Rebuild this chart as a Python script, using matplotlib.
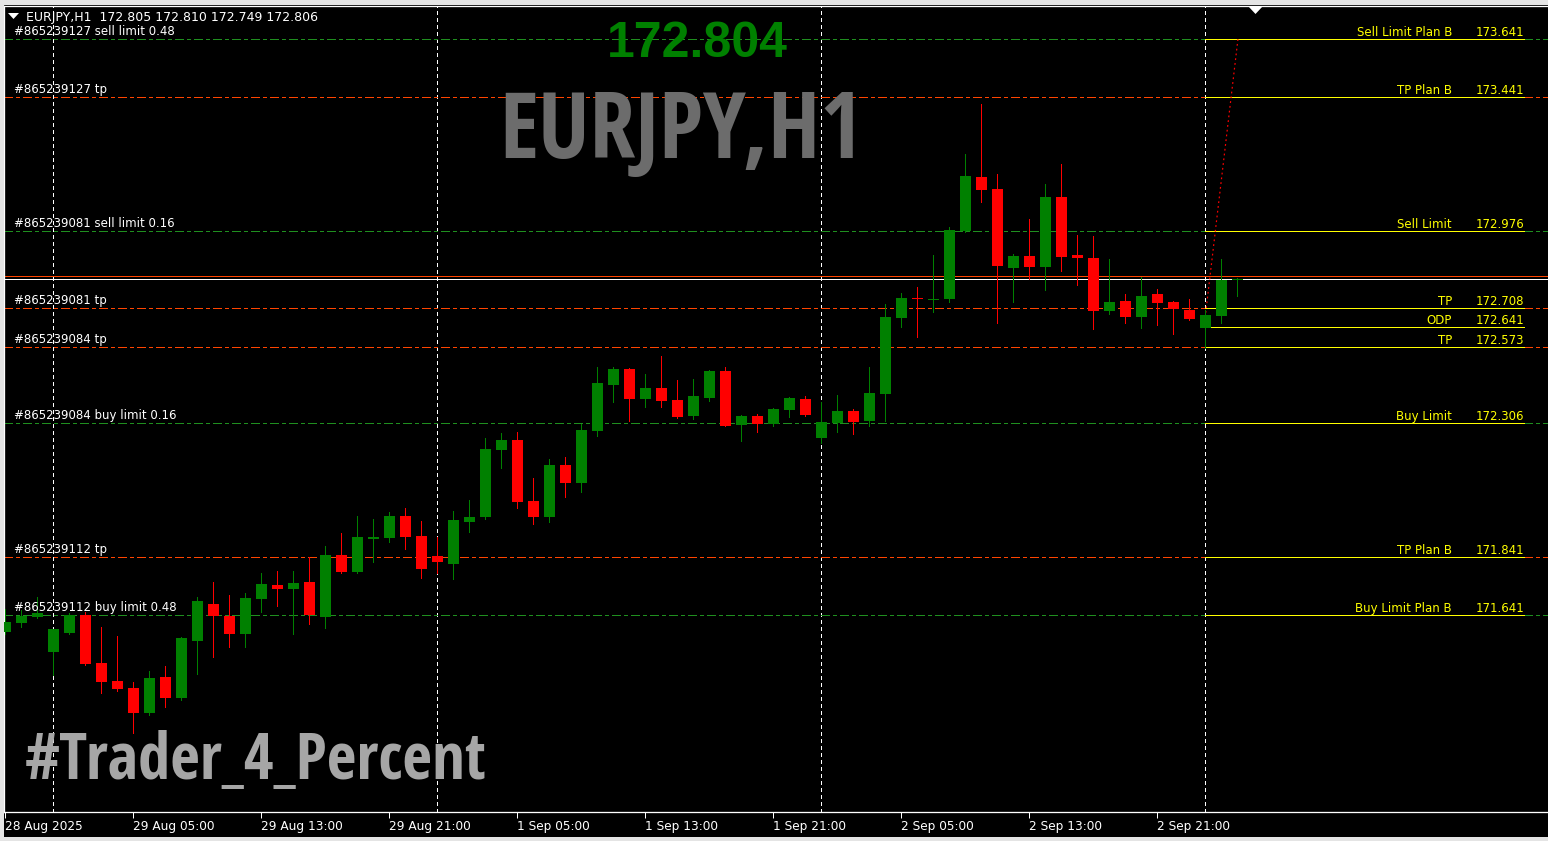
import numpy as np
import matplotlib
matplotlib.use('Agg')
import matplotlib.pyplot as plt
from matplotlib import font_manager as fm
from matplotlib.textpath import TextPath
from matplotlib.patches import Rectangle, Polygon

# ---------------- data ----------------
symbol = 'EURJPY,H1'
ohlc_title = '172.805 172.810 172.749 172.806'
big_price = '172.804'
watermark = '#Trader_4_Percent'

opens = [171.582, 171.613, 171.634, 171.513, 171.578, 171.641, 171.474, 171.412, 171.388, 171.301,
         171.426, 171.353, 171.551, 171.679, 171.638, 171.575, 171.697, 171.745, 171.731, 171.756,
         171.634, 171.849, 171.790, 171.905, 171.908, 171.985, 171.915, 171.846, 171.818, 171.964,
         171.981, 172.214, 172.249, 172.037, 171.981, 172.162, 172.099, 172.280, 172.440, 172.495,
         172.391, 172.429, 172.388, 172.332, 172.395, 172.488, 172.301, 172.332, 172.304, 172.353,
         172.391, 172.256, 172.307, 172.349, 172.314, 172.408, 172.672, 172.742, 172.735, 172.738,
         172.974, 173.162, 173.120, 172.846, 172.888, 172.849, 173.092, 172.891, 172.881, 172.697,
         172.731, 172.676, 172.756, 172.728, 172.700, 172.638, 172.679, 172.805]
highs = [171.662, 171.658, 171.704, 171.594, 171.648, 171.651, 171.599, 171.568, 171.408, 171.447,
         171.464, 171.564, 171.704, 171.756, 171.710, 171.717, 171.787, 171.794, 171.794, 171.842,
         171.881, 171.926, 171.985, 171.974, 171.999, 172.013, 171.967, 171.912, 172.002, 172.040,
         172.256, 172.273, 172.276, 172.117, 172.183, 172.190, 172.304, 172.502, 172.502, 172.497,
         172.478, 172.540, 172.457, 172.460, 172.490, 172.502, 172.335, 172.339, 172.360, 172.398,
         172.401, 172.381, 172.405, 172.356, 172.502, 172.721, 172.759, 172.780, 172.891, 172.988,
         173.242, 173.415, 173.172, 172.895, 173.016, 173.138, 173.207, 172.960, 172.957, 172.877,
         172.756, 172.815, 172.773, 172.731, 172.738, 172.700, 172.877, 172.810]
lows = [171.575, 171.599, 171.631, 171.433, 171.576, 171.467, 171.370, 171.377, 171.231, 171.294,
        171.322, 171.346, 171.436, 171.495, 171.530, 171.530, 171.651, 171.672, 171.575, 171.610,
        171.596, 171.787, 171.787, 171.825, 171.895, 171.870, 171.770, 171.787, 171.766, 171.929,
        171.974, 172.151, 172.013, 171.957, 171.964, 172.051, 172.068, 172.263, 172.381, 172.315,
        172.363, 172.363, 172.325, 172.321, 172.384, 172.297, 172.245, 172.276, 172.297, 172.328,
        172.332, 172.238, 172.276, 172.270, 172.297, 172.314, 172.641, 172.606, 172.693, 172.728,
        172.971, 173.075, 172.655, 172.728, 172.808, 172.770, 172.835, 172.787, 172.634, 172.686,
        172.655, 172.638, 172.648, 172.617, 172.665, 172.568, 172.655, 172.749]
closes = [171.617, 171.638, 171.648, 171.592, 171.641, 171.471, 171.408, 171.384, 171.301, 171.422,
          171.353, 171.561, 171.690, 171.638, 171.575, 171.700, 171.749, 171.731, 171.752, 171.641,
          171.849, 171.790, 171.912, 171.912, 171.985, 171.912, 171.801, 171.825, 171.971, 171.981,
          172.217, 172.249, 172.033, 171.981, 172.162, 172.099, 172.283, 172.447, 172.495, 172.391,
          172.429, 172.384, 172.328, 172.401, 172.488, 172.297, 172.332, 172.304, 172.356, 172.395,
          172.335, 172.311, 172.349, 172.311, 172.412, 172.676, 172.742, 172.738, 172.738, 172.978,
          173.165, 173.117, 172.853, 172.888, 172.849, 173.092, 172.884, 172.881, 172.697, 172.728,
          172.676, 172.749, 172.724, 172.703, 172.669, 172.683, 172.804, 172.806]

tick_idx = [0, 8, 16, 24, 32, 40, 48, 56, 64, 72]
tick_labels = ['28 Aug 2025', '29 Aug 05:00', '29 Aug 13:00', '29 Aug 21:00', '1 Sep 05:00',
               '1 Sep 13:00', '1 Sep 21:00', '2 Sep 05:00', '2 Sep 13:00', '2 Sep 21:00']
day_starts = [3, 27, 51, 75]

order_levels = [173.641, 173.441, 172.976, 172.708, 172.573, 172.306, 171.841, 171.641]
order_texts = ['#865239127 sell limit 0.48', '#865239127 tp', '#865239081 sell limit 0.16',
               '#865239081 tp', '#865239084 tp', '#865239084 buy limit 0.16',
               '#865239112 tp', '#865239112 buy limit 0.48']
order_kinds = ['limit', 'tp', 'limit', 'tp', 'tp', 'limit', 'tp', 'limit']

plan_names = ['Sell Limit Plan B', 'TP Plan B', 'Sell Limit', 'TP', 'ODP', 'TP',
              'Buy Limit', 'TP Plan B', 'Buy Limit Plan B']
plan_levels = [173.641, 173.441, 172.976, 172.708, 172.641, 172.573, 172.306, 171.841, 171.641]

bid = 172.806
ask = 172.818
trend_x = [74.94, 77.06]
trend_y = [172.641, 173.641]

# ---------------- style ----------------
GREEN = '#008000'
RED = '#ff0000'
ORDER_GREEN = '#1f8f1f'
ORANGE = '#ff4500'
YELLOW = '#ffff00'
PX = 0.72  # one pixel in points at 100 dpi

OK_FAMILIES = ('DejaVu Sans', 'Liberation Sans', 'Roboto', 'Open Sans', 'Noto Sans', 'Lato', 'Inter')


def weight_of(f):
    if isinstance(f.weight, (int, float)):
        return f.weight
    return 700 if 'bold' in str(f.weight).lower() else 400


# narrowest plain bold sans face installed, for the big watermark texts
def narrow_bold_font():
    best = None
    for f in fm.fontManager.ttflist:
        if not f.name.startswith(OK_FAMILIES) or 'CJK' in f.name or 'Mono' in f.name:
            continue
        if weight_of(f) < 700 or f.style != 'normal':
            continue
        try:
            prop = fm.FontProperties(fname=f.fname)
            wd = TextPath((0, 0), symbol, size=100, prop=prop).get_extents().width
            ht = TextPath((0, 0), 'E', size=100, prop=prop).get_extents().height
        except Exception:
            continue
        if ht <= 0:
            continue
        ratio = wd / ht
        if best is None or ratio < best[0]:
            best = (ratio, f.fname)
    return best[1] if best else None


def fit_size(text, prop, width_px):
    wd = TextPath((0, 0), text, size=100, prop=prop).get_extents().width
    return 100 * width_px / (wd * 100 / 72)


nfile = narrow_bold_font()
if nfile:
    big_prop = fm.FontProperties(fname=nfile)
else:
    big_prop = fm.FontProperties(family='DejaVu Sans', weight='bold')
sym_size = fit_size(symbol, big_prop, 348)
wm_size = fit_size(watermark, big_prop, 458)

W, H = 1548, 841
fig = plt.figure(figsize=(W / 100, H / 100), dpi=100, facecolor='black')
ax = fig.add_axes([4 / W, (H - 812) / H, (W - 4) / W, (812 - 6) / H])
ax.set_facecolor('black')

# 16 px per bar, 288 px per 1.000 of price
ax.set_xlim(-1 / 16, (W - 5) / 16)
ax.set_ylim(173.641 - (812 - 39) / 288, 173.641 + (39 - 6) / 288)
ppx = 1 / 288  # price per pixel

ax.spines['right'].set_visible(False)
for s in ['top', 'left', 'bottom']:
    ax.spines[s].set_color('white')
    ax.spines[s].set_linewidth(PX * 1.3)

ax.set_yticks([])
ax.set_xticks(tick_idx)
ax.set_xticklabels(tick_labels, fontsize=8.7, color='white', ha='left')
ax.tick_params(axis='x', colors='white', length=4, width=PX, pad=2)

# period separators
for d in day_starts:
    ax.axvline(d, color='white', lw=PX, dashes=(3, 3), zorder=1, antialiased=False)

# order lines
for lvl, kind in zip(order_levels, order_kinds):
    col = ORDER_GREEN if kind == 'limit' else ORANGE
    ax.axhline(lvl, color=col, lw=PX, dashes=(9, 4, 3, 4), zorder=1, antialiased=False)

for lvl, txt in zip(order_levels, order_texts):
    ax.text((14 - 5) / 16, lvl + 4 * ppx, txt, color='white', fontsize=8.5,
            va='baseline', ha='left', zorder=6)

# price lines
ax.axhline(ask, color=ORANGE, lw=PX, zorder=2, antialiased=False)
ax.axhline(bid, color='white', lw=PX, zorder=2, antialiased=False)

# plan levels (yellow)
x0, x1 = (1205 - 5) / 16, (1524 - 5) / 16
for lvl, name in zip(plan_levels, plan_names):
    ax.plot([x0, x1], [lvl, lvl], color=YELLOW, lw=PX, zorder=2, antialiased=False)
    ax.text((1452 - 5) / 16, lvl + 3 * ppx, name, color=YELLOW, fontsize=8.5,
            ha='right', va='baseline', zorder=6)
    ax.text(x1, lvl + 3 * ppx, f'{lvl:.3f}', color=YELLOW, fontsize=8.5,
            ha='right', va='baseline', zorder=6)

# candles
o = np.array(opens)
h = np.array(highs)
l = np.array(lows)
c = np.array(closes)
x = np.arange(len(o))
up = c >= o
cols = np.where(up, GREEN, RED)
ax.vlines(x, l, h, colors=cols, lw=PX, zorder=4, antialiased=False)
body = np.maximum(np.abs(c - o), 1.2 * ppx)
ax.bar(x, body, bottom=np.minimum(o, c), width=11 / 16, color=cols, linewidth=0, zorder=5)

# trend line
ax.plot(trend_x, trend_y, color=RED, lw=PX * 1.2, dashes=(1.5, 2.5), zorder=3)

# big texts
fig.text(697 / W, 1 - 57 / H, big_price, color=GREEN, fontsize=36, fontweight='bold',
         family=['Liberation Sans', 'DejaVu Sans'], ha='center', va='baseline')
fig.text(681 / W, 1 - 158 / H, symbol, color='#6c6c6c', fontsize=sym_size,
         ha='center', va='baseline', fontproperties=big_prop)
fig.text(25 / W, 1 - 779 / H, watermark, color='#a6a6a6', fontsize=wm_size,
         ha='left', va='baseline', fontproperties=big_prop)

# top-left title
fig.text(26 / W, 1 - 17 / H, symbol + '  ' + ohlc_title, color='white', fontsize=9,
         ha='left', va='center')


def fpx(px, py):
    return (px / W, 1 - py / H)


fig.patches.append(Polygon([fpx(8, 13), fpx(19, 13), fpx(13.5, 19)], closed=True,
                           facecolor='white', edgecolor='none', transform=fig.transFigure))
fig.patches.append(Polygon([fpx(1248, 6), fpx(1263, 6), fpx(1255.5, 14)], closed=True,
                           facecolor='white', edgecolor='none', transform=fig.transFigure, zorder=5))

# window edges
for rx, ry, rw, rh in [(0, 0, W, 5), (0, 0, 4, H), (0, 837, W, 4)]:
    fig.patches.append(Rectangle(fpx(rx, ry + rh), rw / W, rh / H, facecolor='#e4e4e4',
                                 edgecolor='none', transform=fig.transFigure))

fig.savefig('out.png', dpi=100, facecolor=fig.get_facecolor())
